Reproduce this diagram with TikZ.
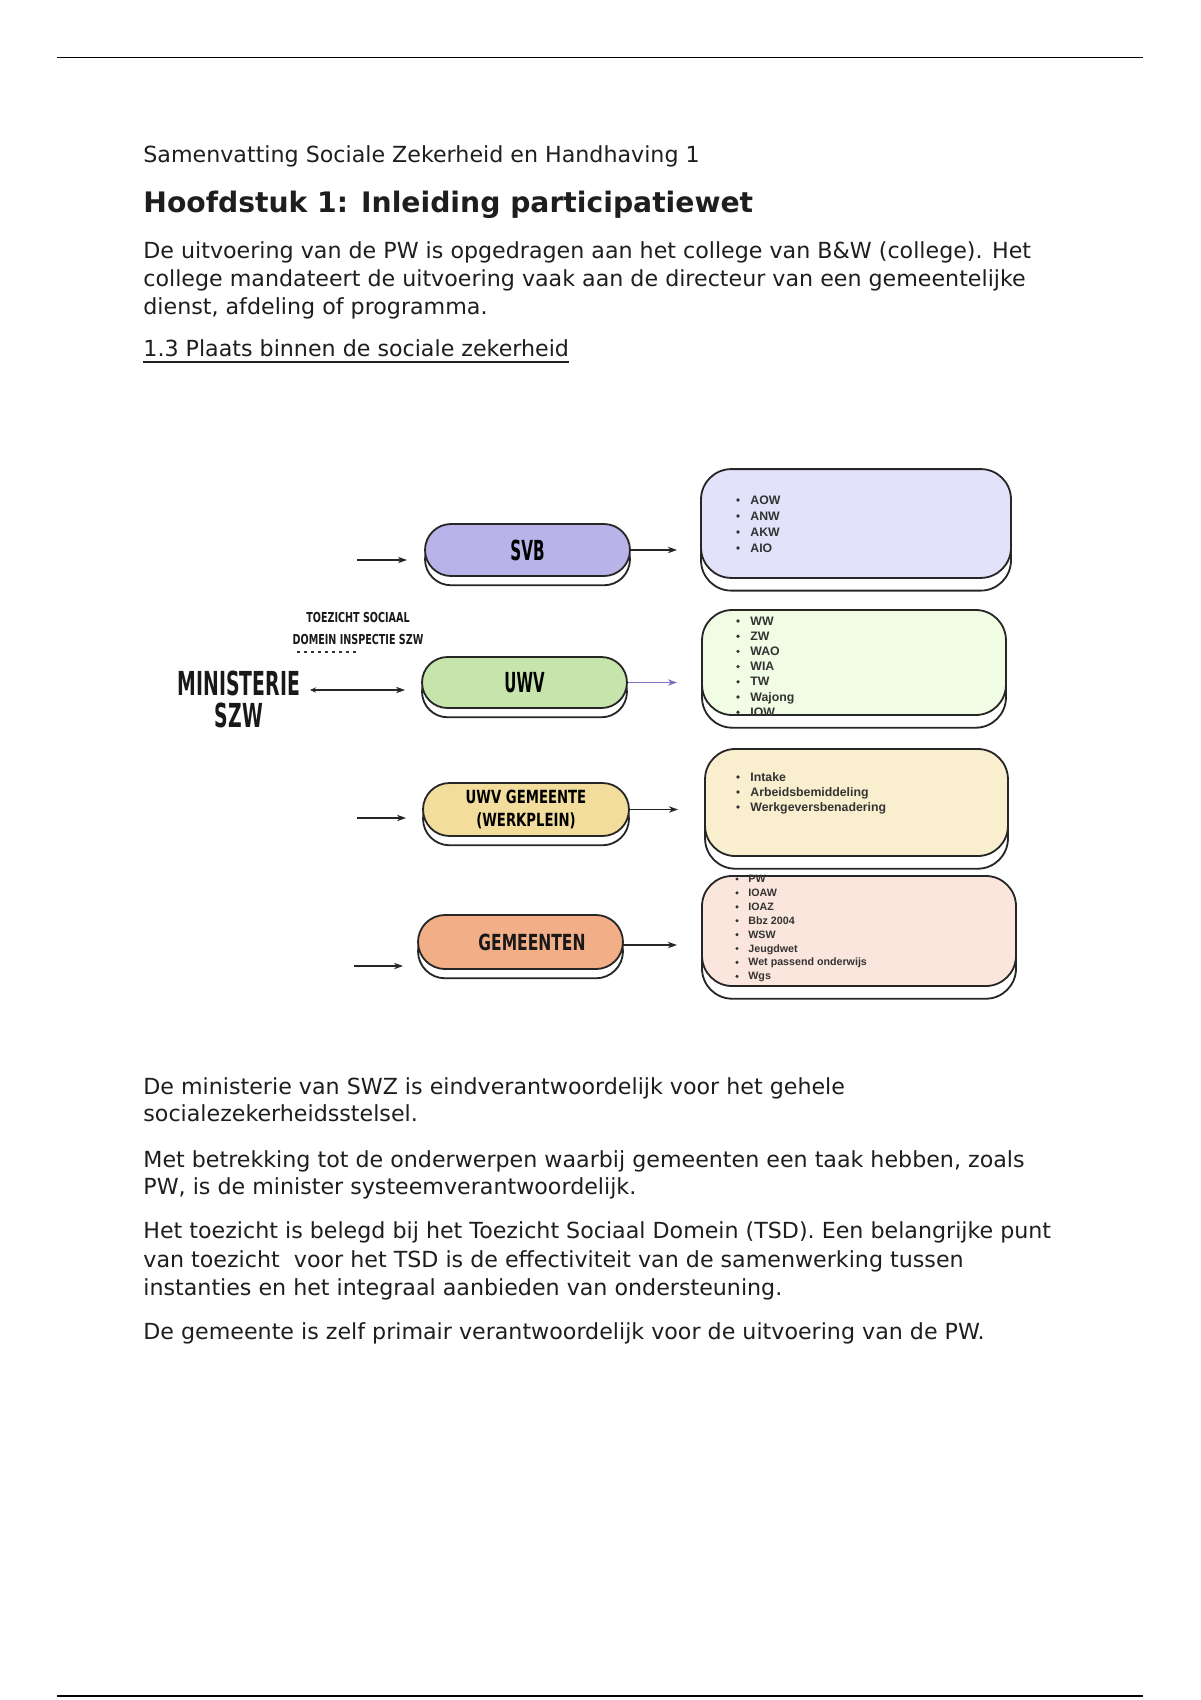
\documentclass[tikz,border=0pt]{standalone}
\usepackage{fontspec}
\setmainfont{DejaVu Sans}
\newfontfamily\itemf{Liberation Sans}
\usetikzlibrary{shapes.misc,shadows,arrows.meta}
\definecolor{svbP}{HTML}{B8B3E8}
\definecolor{svbB}{HTML}{E2E2FB}
\definecolor{uwvP}{HTML}{C6E5AC}
\definecolor{uwvB}{HTML}{F0FCE3}
\definecolor{gwP}{HTML}{F3DD9C}
\definecolor{gwB}{HTML}{F9EFCF}
\definecolor{gmP}{HTML}{F2AE86}
\definecolor{gmB}{HTML}{FAE6DC}
\definecolor{txtc}{HTML}{1E1E1E}
\definecolor{itemc}{HTML}{333333}
\definecolor{purp}{HTML}{7E6FC2}
\begin{document}
\begin{tikzpicture}[x=0.4962pt,y=-0.4962pt,
  txt/.style={anchor=base west, inner sep=0pt, text=txtc, font=\fontsize{11}{13}\selectfont},
  pill/.style={rounded rectangle, draw=black!85, line width=0.9pt, inner sep=0pt,
     copy shadow={shadow xshift=0pt, shadow yshift=-4.6pt, fill=white, draw=black!85, line width=0.9pt}},
  box/.style={rectangle, rounded corners=15pt, draw=black!85, line width=0.9pt, inner sep=0pt,
     copy shadow={shadow xshift=0pt, shadow yshift=-6.3pt, fill=white, draw=black!85, line width=0.9pt}},
  hand/.style={inner sep=0pt, text=black!90, font=\bfseries},
  item/.style={anchor=base west, inner sep=0pt, text=itemc, font=\itemf\bfseries\fontsize{6.1}{7}\selectfont},
  arr/.style={-{Stealth[length=4.5pt,width=3.2pt]}, line width=0.6pt, draw=black!85},
]
\useasboundingbox[fill=white] (0,0) rectangle (1200,1700);

% page rules
\draw[line width=0.7pt] (57,57.5) -- (1143,57.5);
\draw[line width=0.7pt] (57,1696) -- (1143,1696);

% top text
\node[txt] (t0) at (143,162) {Samenvatting Sociale Zekerheid en Handhaving 1};
\node[txt, font=\fontsize{14}{16}\selectfont\bfseries] (h1) at (143,212) {Hoofdstuk 1: Inleiding participatiewet};
\node[txt] (p1) at (143,258) {De uitvoering van de PW is opgedragen aan het college van B\&W (college). Het};
\node[txt] (p2) at (143,286) {college mandateert de uitvoering vaak aan de directeur van een gemeentelijke};
\node[txt] (p3) at (143,314) {dienst, afdeling of programma.};
\node[txt] (s1) at (143,356) {1.3 Plaats binnen de sociale zekerheid};
\draw[line width=0.6pt, txtc] (143,362) -- (s1.base east |- 0,362);

% pills
\node[pill, fill=svbP, minimum width=101.7pt, minimum height=25.8pt] (svb) at (527.5,550)
  {\scalebox{0.55}[1]{\fontsize{13.7}{15}\selectfont\bfseries SVB}};
\node[pill, fill=uwvP, minimum width=101.7pt, minimum height=25.3pt] (uwv) at (524.5,682.5)
  {\scalebox{0.54}[1]{\fontsize{13.7}{15}\selectfont\bfseries UWV}};
\node[pill, fill=gwP, minimum width=102.2pt, minimum height=26.3pt, align=center] (uwvg) at (526,809.5)
  {\scalebox{0.73}[1]{\fontsize{9}{12.3}\selectfont\bfseries UWV GEMEENTE}\\[-1pt]\scalebox{0.73}[1]{\fontsize{9}{12.3}\selectfont\bfseries (WERKPLEIN)}};
\node[pill, fill=gmP, minimum width=101.7pt, minimum height=26.8pt] (gem) at (520.5,942) {};
\node[hand] (gemT) at (532,942) {\scalebox{0.7}[1]{\fontsize{11}{13}\selectfont\bfseries GEMEENTEN}};

% boxes
\node[box, fill=svbB, minimum width=153.8pt, minimum height=54pt] (svbBox) at (856,523.5) {};
\node[box, fill=uwvB, minimum width=150.8pt, minimum height=52.1pt] (uwvBox) at (854,662.5) {};
\node[box, fill=gwB, minimum width=150.3pt, minimum height=53.1pt] (gwBox) at (856.5,802.5) {};
\node[box, fill=gmB, minimum width=155.8pt, minimum height=54.6pt] (gmBox) at (859,931) {};

% box items
\foreach \t [count=\i from 0] in {AOW,ANW,AKW,AIO} {
  \fill[itemc] (738,500+16*\i) circle (0.9pt);
  \node[item] (svbI\i) at (750,504+16*\i) {\t};
}
\foreach \t [count=\i from 0] in {WW,ZW,WAO,WIA,TW,Wajong,IOW} {
  \fill[itemc] (738,621+15.2*\i) circle (0.9pt);
  \node[item] (uwvI\i) at (750,625+15.2*\i) {\t};
}
\foreach \t [count=\i from 0] in {Intake,Arbeidsbemiddeling,Werkgeversbenadering} {
  \fill[itemc] (738,777+15*\i) circle (0.9pt);
  \node[item] (gwI\i) at (750,781+15*\i) {\t};
}
\foreach \t [count=\i from 0] in {PW,IOAW,IOAZ,Bbz 2004,WSW,Jeugdwet,Wet passend onderwijs,Wgs} {
  \fill[itemc] (737,879+13.9*\i) circle (0.85pt);
  \node[item, font=\itemf\bfseries\fontsize{5.3}{6}\selectfont] (gmI\i) at (748,882.5+13.9*\i) {\t};
}

% ministerie + toezicht
\node[hand] (min) at (239,683)
  {\scalebox{0.57}[1]{\fontsize{16.4}{17}\selectfont\bfseries MINISTERIE}};
\node[hand] (minB) at (239,715)
  {\scalebox{0.57}[1]{\fontsize{16.4}{17}\selectfont\bfseries SZW}};
\node[hand] (tz) at (358,618)
  {\scalebox{0.7}[1]{\fontsize{6.8}{8}\selectfont\bfseries TOEZICHT SOCIAAL}};
\node[hand] (tzB) at (358,640)
  {\scalebox{0.7}[1]{\fontsize{6.8}{8}\selectfont\bfseries DOMEIN INSPECTIE SZW}};
\draw[line width=1.3pt, dash pattern=on 1.3pt off 2.2pt, black!80] (297,652) -- (360,652);

% connectors
\coordinate (minA) at (310,690);
\draw[arr, {Stealth[length=3pt,width=2.6pt]}-{Stealth[length=4.5pt,width=3.2pt]}, shorten >=8pt] (minA) -- (minA -| uwv.west);

\coordinate (svbIn) at (357,560);
\draw[arr, shorten >=8.5pt] (svbIn) -- (svbIn -| svb.west);
\coordinate (gwIn) at (357,818);
\draw[arr, shorten >=8pt] (gwIn) -- (gwIn -| uwvg.west);
\coordinate (gmIn) at (354,966);
\draw[arr, shorten >=7pt] (gmIn) -- (gmIn -| gem.west);

\draw[arr, shorten >=11.5pt] (svb.east) -- (svb.east -| svbBox.west);
\draw[arr, draw=purp, shorten >=12pt] (uwv.east) -- (uwv.east -| uwvBox.west);
\draw[arr, shorten >=13pt] (uwvg.east) -- (uwvg.east -| gwBox.west);
\coordinate (gmOut) at (623,945);
\draw[arr, shorten >=12pt] (gmOut) -- (gmOut -| gmBox.west);

% bottom text
\node[txt] (b1) at (143,1094) {De ministerie van SWZ is eindverantwoordelijk voor het gehele};
\node[txt] (b2) at (143,1121) {socialezekerheidsstelsel.};
\node[txt] (b3) at (143,1167) {Met betrekking tot de onderwerpen waarbij gemeenten een taak hebben, zoals};
\node[txt] (b4) at (143,1194) {PW, is de minister systeemverantwoordelijk.};
\node[txt] (b5) at (143,1238) {Het toezicht is belegd bij het Toezicht Sociaal Domein (TSD). Een belangrijke punt};
\node[txt] (b6) at (143,1267) {van toezicht\ \ voor het TSD is de effectiviteit van de samenwerking tussen};
\node[txt] (b7) at (143,1295) {instanties en het integraal aanbieden van ondersteuning.};
\node[txt] (b8) at (143,1339) {De gemeente is zelf primair verantwoordelijk voor de uitvoering van de PW.};
\end{tikzpicture}
\end{document}
